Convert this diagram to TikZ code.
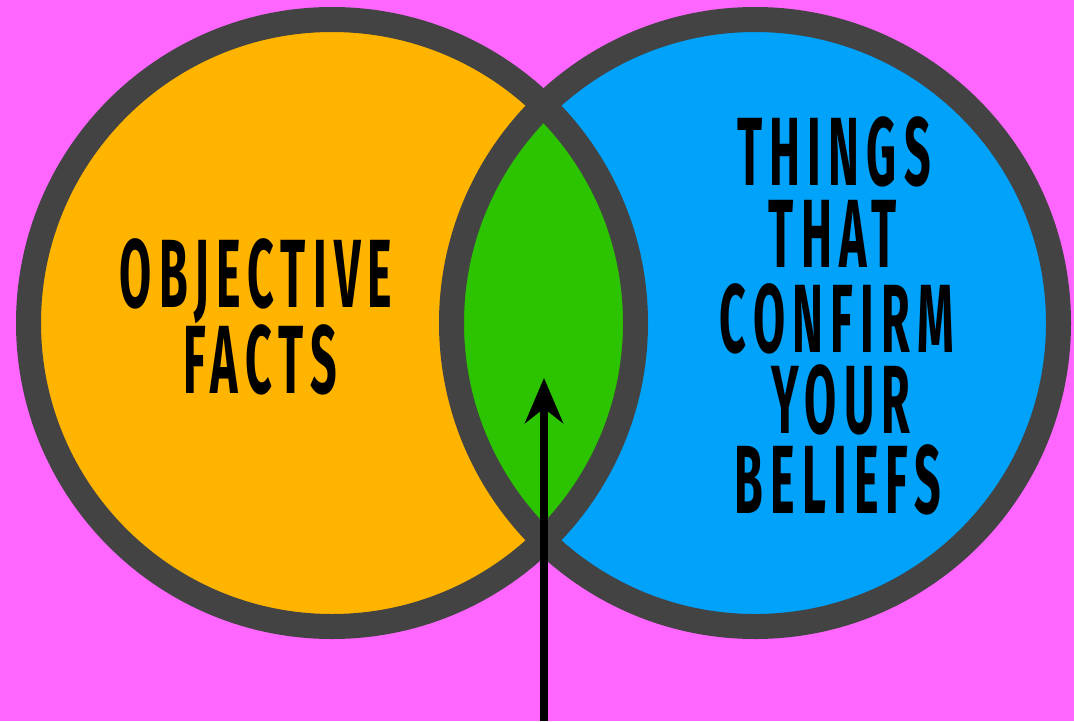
\documentclass[tikz,border=0pt]{standalone}
\usepackage{fontspec}
\newfontfamily\condfont[FakeStretch=0.48,LetterSpace=7.5]{Fira Sans}
\usetikzlibrary{arrows.meta}
\definecolor{bgmag}{HTML}{FF66FF}
\definecolor{orangefill}{HTML}{FFB400}
\definecolor{bluefill}{HTML}{00A2FA}
\definecolor{greenfill}{HTML}{2CC300}
\definecolor{rimgray}{HTML}{434343}
\tikzset{
  rim/.style={draw=rimgray, line width=25pt},
  lbl/.style={anchor=base, inner sep=0pt, text depth=0pt, text height=62pt, font=\condfont\bfseries\fontsize{97}{97}\selectfont, text=black},
  pointer/.style={draw=black, line width=8pt, -{Stealth[length=45pt,width=38pt]}}
}
\begin{document}
\begin{tikzpicture}[x=1pt,y=-1pt]
  \fill[bgmag] (0,0) rectangle (1074,721);
  \useasboundingbox (0,0) rectangle (1074,721);
  \coordinate (lc) at (332,323);
  \coordinate (rc) at (755,323);
  \fill[orangefill] (lc) circle[radius=303.5];
  \fill[bluefill] (rc) circle[radius=303.5];
  \begin{scope}
    \clip (lc) circle[radius=303.5];
    \fill[greenfill] (rc) circle[radius=303.5];
  \end{scope}
  \draw[rim] (lc) circle[radius=303.5];
  \draw[rim] (rc) circle[radius=303.5];
  \node[lbl] (obj) at (256,307) {OBJECTIVE};
  \node[lbl] (facts) at (260,393) {FACTS};
  \node[lbl] (things) at (834,185) {THINGS};
  \node[lbl] (that) at (833,267) {THAT};
  \node[lbl] (confirm) at (837,352) {CONFIRM};
  \node[lbl] (your) at (841,433) {YOUR};
  \node[lbl] (beliefs) at (838,513) {BELIEFS};
  \coordinate (arrowfoot) at (544,721);
  \coordinate (arrowtip) at (544,378);
  \draw[pointer] (arrowfoot) -- (arrowtip);
\end{tikzpicture}
\end{document}
